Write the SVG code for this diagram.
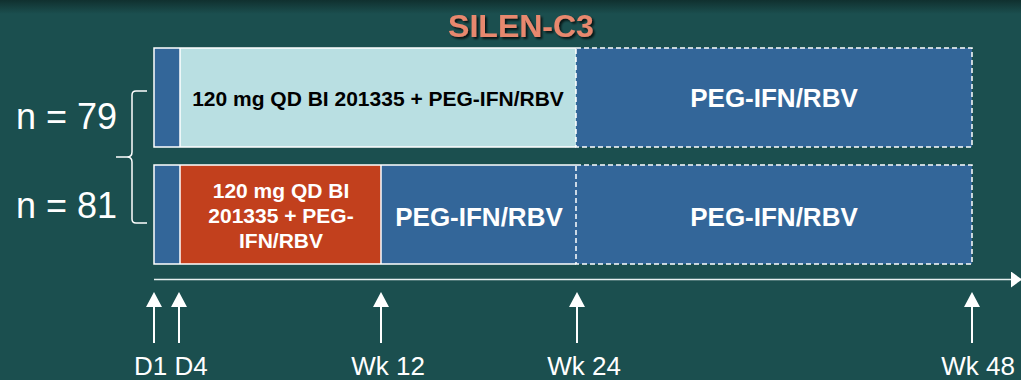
<svg xmlns="http://www.w3.org/2000/svg" width="1021" height="380" viewBox="0 0 1021 380">
<defs>
<linearGradient id="bgtop" x1="0" y1="0" x2="0" y2="1">
<stop offset="0" stop-color="#10302f"/>
<stop offset="1" stop-color="#1b4f4f"/>
</linearGradient>
<filter id="sh" x="-10%" y="-20%" width="130%" height="150%">
<feDropShadow dx="2" dy="2" stdDeviation="0.8" flood-color="#000" flood-opacity="0.75"/>
</filter>
<marker id="ah" viewBox="0 0 11 16" refX="10" refY="8" markerWidth="11" markerHeight="16" markerUnits="userSpaceOnUse" orient="auto">
<path d="M0,0 L11,8 L0,16 Z" fill="#ffffff"/>
</marker>
</defs>
<style>
.bold{font-family:"Liberation Sans",Arial,sans-serif;font-weight:bold;}
.reg{font-family:"Liberation Sans",Arial,sans-serif;fill:#ffffff;}
.solid{stroke:#ffffff;stroke-width:1.5;}
.dash{stroke:#ffffff;stroke-width:1.5;stroke-dasharray:5 3;fill:none;}
.blue{fill:#336699;}
.wt{fill:#ffffff;}
.tick{stroke:#ffffff;stroke-width:2;}
</style>
<rect width="1021" height="380" fill="#1b4f4f"/>
<rect width="1021" height="14" fill="url(#bgtop)"/>

<text id="title" class="bold" x="521" y="37" font-size="32" text-anchor="middle" fill="#e8886e" filter="url(#sh)">SILEN-C3</text>

<g id="labels-n">
<text class="reg" x="16" y="129" font-size="36">n = 79</text>
<text class="reg" x="16" y="218" font-size="36">n = 81</text>
<path d="M147,91 H136 Q132,91 132,95 V152 Q132,157 127,157 H116 M127,157 Q132,157 132,162 V219 Q132,223 136,223 H147" fill="none" stroke="#ffffff" stroke-width="1.5"/>
</g>

<g id="arm1">
<rect x="154" y="48" width="26" height="99" class="blue"/>
<rect x="180" y="48" width="396" height="99" fill="#b9dfe2"/>
<rect x="576" y="48" width="396" height="99" class="blue"/>
<path d="M576,48 H154 V147 H576" fill="none" class="solid"/>
<line x1="180" y1="48" x2="180" y2="147" class="solid"/>
<path d="M576,48 H972 V147 H576 Z" class="dash"/>
<text class="bold" x="378" y="106" font-size="21" text-anchor="middle" fill="#000000">120 mg QD BI 201335 + PEG-IFN/RBV</text>
<text class="bold" x="774" y="107" font-size="26" text-anchor="middle" fill="#ffffff">PEG-IFN/RBV</text>
</g>

<g id="arm2">
<rect x="154" y="165" width="26" height="99" class="blue"/>
<rect x="180" y="165" width="201" height="99" fill="#c2401d"/>
<rect x="381" y="165" width="195" height="99" class="blue"/>
<rect x="576" y="165" width="396" height="99" class="blue"/>
<path d="M576,165 H154 V264 H576" fill="none" class="solid"/>
<line x1="180" y1="165" x2="180" y2="264" class="solid"/>
<line x1="381" y1="165" x2="381" y2="264" class="solid"/>
<path d="M576,165 H972 V264 H576 Z" class="dash"/>
<text class="bold" font-size="21" text-anchor="middle" fill="#ffffff"><tspan x="281" y="198">120 mg QD BI</tspan><tspan x="281" y="223">201335 + PEG-</tspan><tspan x="281" y="248">IFN/RBV</tspan></text>
<text class="bold" x="479" y="226" font-size="26" text-anchor="middle" fill="#ffffff">PEG-IFN/RBV</text>
<text class="bold" x="774" y="226" font-size="26" text-anchor="middle" fill="#ffffff">PEG-IFN/RBV</text>
</g>

<g id="connectors">
<line x1="154" y1="279.5" x2="1021" y2="279.5" stroke="#e6f0f0" stroke-width="1.6" marker-end="url(#ah)"/>
<g id="ticks">
<line x1="154" y1="343" x2="154" y2="306" class="tick"/><path d="M146,307 L154,292 L162,307 Z" class="wt"/>
<line x1="179" y1="343" x2="179" y2="306" class="tick"/><path d="M171,307 L179,292 L187,307 Z" class="wt"/>
<line x1="381" y1="343" x2="381" y2="306" class="tick"/><path d="M373,307 L381,292 L389,307 Z" class="wt"/>
<line x1="577" y1="343" x2="577" y2="306" class="tick"/><path d="M569,307 L577,292 L585,307 Z" class="wt"/>
<line x1="972" y1="343" x2="972" y2="306" class="tick"/><path d="M964,307 L972,292 L980,307 Z" class="wt"/>
</g>
</g>

<g id="timepoints">
<text class="reg" x="134" y="375" font-size="26">D1 D4</text>
<text class="reg" x="388" y="375" font-size="26" text-anchor="middle">Wk 12</text>
<text class="reg" x="584" y="375" font-size="26" text-anchor="middle">Wk 24</text>
<text class="reg" x="978" y="375" font-size="26" text-anchor="middle">Wk 48</text>
</g>
</svg>
